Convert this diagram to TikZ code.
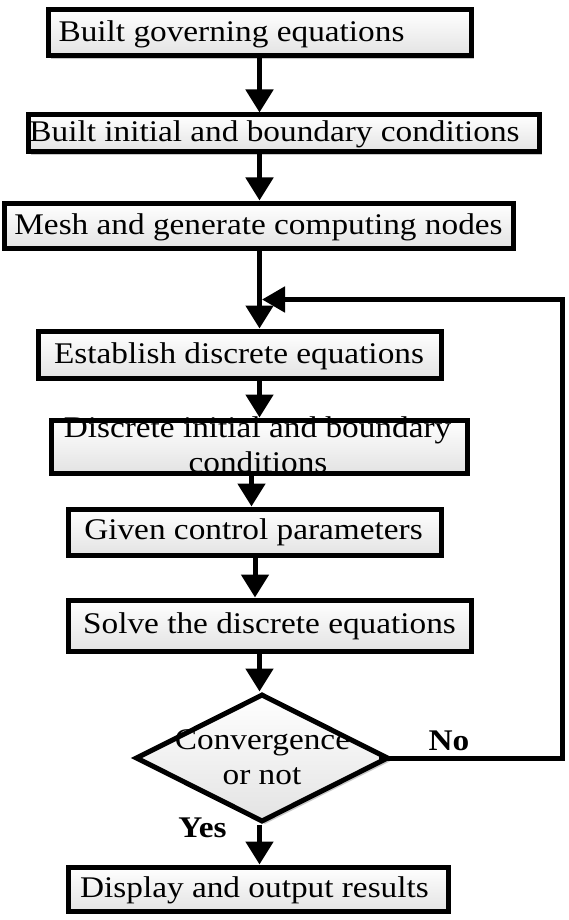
\documentclass[tikz,border=0pt]{standalone}
\usepackage{fontspec}
\setmainfont[FakeStretch=1.11]{Liberation Serif}
\usetikzlibrary{arrows.meta,shapes.geometric,shadows}
\begin{document}
\begin{tikzpicture}[x=1pt,y=-1pt,
  boxstyle/.style={draw=black,line width=5pt,rectangle,inner sep=0pt,
    top color=white,bottom color=black!11,
    drop shadow={shadow xshift=3pt,shadow yshift=-3pt,opacity=0.22,fill=black}},
  diastyle/.style={draw=black,line width=5pt,diamond,inner sep=0pt,
    top color=white,bottom color=black!11,
    drop shadow={shadow xshift=3pt,shadow yshift=-3pt,opacity=0.22,fill=black}},
  lbl/.style={anchor=base,inner sep=0pt,font=\fontsize{30}{35}\selectfont},
  blbl/.style={lbl,font=\fontsize{30}{35}\selectfont\bfseries},
  arr/.style={line width=5pt,-{Triangle[length=23pt,width=27pt]}},
  loopline/.style={line width=5pt,-{Triangle[length=23pt,width=25pt]}}
]
\useasboundingbox[fill=white] (0,0) rectangle (568,920);

% boxes
\node[boxstyle,minimum width=423pt,minimum height=46pt] (b1) at (259.5,33) {};
\node[boxstyle,minimum width=511pt,minimum height=37pt] (b2) at (283.5,133.5) {};
\node[boxstyle,minimum width=509pt,minimum height=45pt] (b3) at (258.5,225.5) {};
\node[boxstyle,minimum width=403pt,minimum height=47pt] (b4) at (239.5,354.5) {};
\node[boxstyle,minimum width=416pt,minimum height=53pt] (b5) at (259,446.5) {};
\node[boxstyle,minimum width=373pt,minimum height=46pt] (b6) at (254.5,532) {};
\node[boxstyle,minimum width=403pt,minimum height=51pt] (b7) at (269.5,625.5) {};
\node[diastyle,minimum width=253pt,minimum height=128pt] (dia) at (262,758) {};
\node[boxstyle,minimum width=380pt,minimum height=44pt] (b8) at (258,889) {};

% texts
\node[lbl] (t1) at (231.5,42) {Built governing equations};
\node[lbl] (t2) at (274.5,142) {Built initial and boundary conditions};
\node[lbl] (t3) at (258.5,234) {Mesh and generate computing nodes};
\node[lbl] (t4) at (239,363) {Establish discrete equations};
\node[lbl] (t5a) at (257.5,437) {Discrete initial and boundary};
\node[lbl] (t5b) at (258,472) {conditions};
\node[lbl] (t6) at (253.5,539) {Given control parameters};
\node[lbl] (t7) at (269.5,633) {Solve the discrete equations};
\node[lbl] (t8) at (254.5,897) {Display and output results};
\node[lbl] (tc1) at (262.5,749) {Convergence};
\node[lbl] (tc2) at (262,784) {or not};
\node[blbl] (tno) at (449,750) {No};
\node[blbl] (tyes) at (202.5,837) {Yes};

% guide coordinates
\coordinate (ax) at (259.5,0);
\coordinate (ax5) at (251.5,0);
\coordinate (ax6) at (255,0);
\coordinate (rx) at (562,0);
\coordinate (join) at (262,299.5);

% connectors
\draw[arr] (b1.south -| ax) -- (b2.north -| ax);
\draw[arr] (b2.south -| ax) -- (b3.north -| ax);
\draw[arr] (b3.south -| ax) -- (b4.north -| ax);
\draw[arr] (b4.south -| ax) -- (b5.north -| ax);
\draw[arr] (b5.south -| ax5) -- (b6.north -| ax5);
\draw[arr] (b6.south -| ax6) -- (b7.north -| ax6);
\draw[arr] (b7.south -| ax) -- (dia.north -| ax);
\draw[arr] (dia.south -| ax) -- (b8.north -| ax);
\draw[loopline] ([xshift=-12pt]dia.east) -- (dia.east -| rx) |- (join);
\end{tikzpicture}
\end{document}
